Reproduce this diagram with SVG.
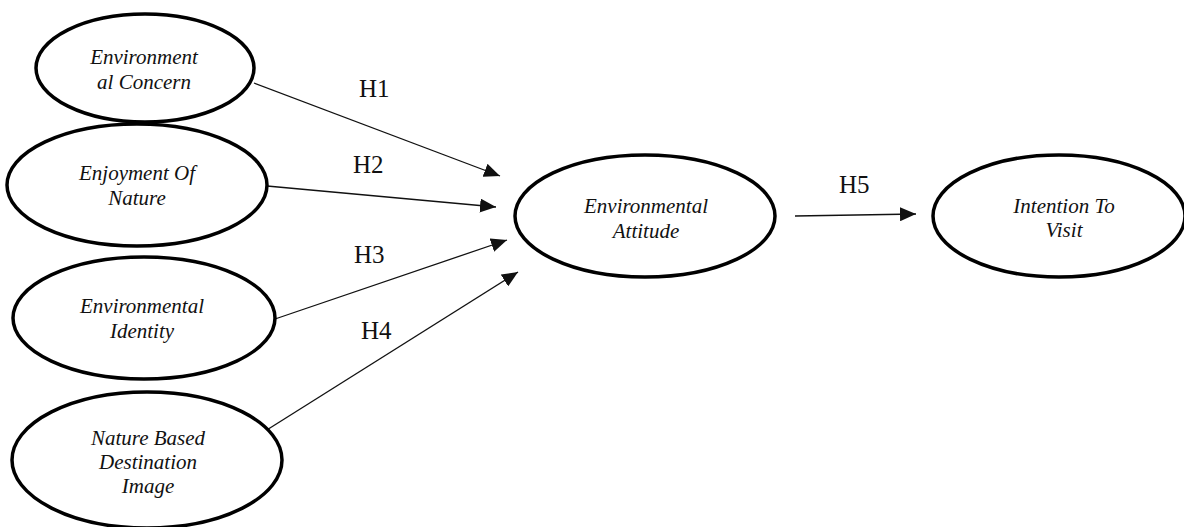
<svg xmlns="http://www.w3.org/2000/svg" width="1184" height="527" viewBox="0 0 1184 527">
<style>
.node{fill:#fff;stroke:#000;stroke-width:3.5}
.lbl{font-family:"Liberation Serif","Times New Roman",serif;font-style:italic;font-size:21px;fill:#111;text-anchor:middle}
.h{font-family:"Liberation Serif","Times New Roman",serif;font-size:25px;fill:#111}
.edge{stroke:#111;stroke-width:1.3;fill:none}
</style>
<defs>
<marker id="arr" viewBox="0 0 16 14" refX="16" refY="7" markerWidth="16" markerHeight="14" markerUnits="userSpaceOnUse" orient="auto">
<path d="M0,0 L16,7 L0,14 Z" fill="#111"/>
</marker>
</defs>
<rect width="1184" height="527" fill="#fff"/>
<g id="connectors">
<line class="edge" x1="254" y1="83" x2="500" y2="176" marker-end="url(#arr)"/>
<line class="edge" x1="267" y1="186" x2="496" y2="207" marker-end="url(#arr)"/>
<line class="edge" x1="275" y1="319" x2="507" y2="240" marker-end="url(#arr)"/>
<line class="edge" x1="262" y1="433" x2="518" y2="272" marker-end="url(#arr)"/>
<line class="edge" x1="795" y1="216" x2="916" y2="214" marker-end="url(#arr)"/>
<text class="h" x="359" y="97">H1</text>
<text class="h" x="353" y="173">H2</text>
<text class="h" x="354" y="263">H3</text>
<text class="h" x="361" y="339">H4</text>
<text class="h" x="839" y="193">H5</text>
</g>
<g id="environmental-concern">
<ellipse class="node" cx="145" cy="68" rx="109" ry="54"/>
<text class="lbl" x="144" y="64">Environment</text>
<text class="lbl" x="144" y="89">al Concern</text>
</g>
<g id="enjoyment-of-nature">
<ellipse class="node" cx="137" cy="185" rx="130" ry="61"/>
<text class="lbl" x="137" y="180">Enjoyment Of</text>
<text class="lbl" x="137" y="205">Nature</text>
</g>
<g id="environmental-identity">
<ellipse class="node" cx="144" cy="318" rx="131" ry="61"/>
<text class="lbl" x="142" y="313">Environmental</text>
<text class="lbl" x="142" y="338">Identity</text>
</g>
<g id="nature-based-destination-image">
<ellipse class="node" cx="147" cy="460" rx="135" ry="68"/>
<text class="lbl" x="148" y="445">Nature Based</text>
<text class="lbl" x="148" y="469">Destination</text>
<text class="lbl" x="148" y="493">Image</text>
</g>
<g id="environmental-attitude">
<ellipse class="node" cx="645" cy="216" rx="130" ry="61"/>
<text class="lbl" x="646" y="213">Environmental</text>
<text class="lbl" x="646" y="238">Attitude</text>
</g>
<g id="intention-to-visit">
<ellipse class="node" cx="1059" cy="216" rx="126" ry="61"/>
<text class="lbl" x="1064" y="213">Intention To</text>
<text class="lbl" x="1064" y="237">Visit</text>
</g>
</svg>
